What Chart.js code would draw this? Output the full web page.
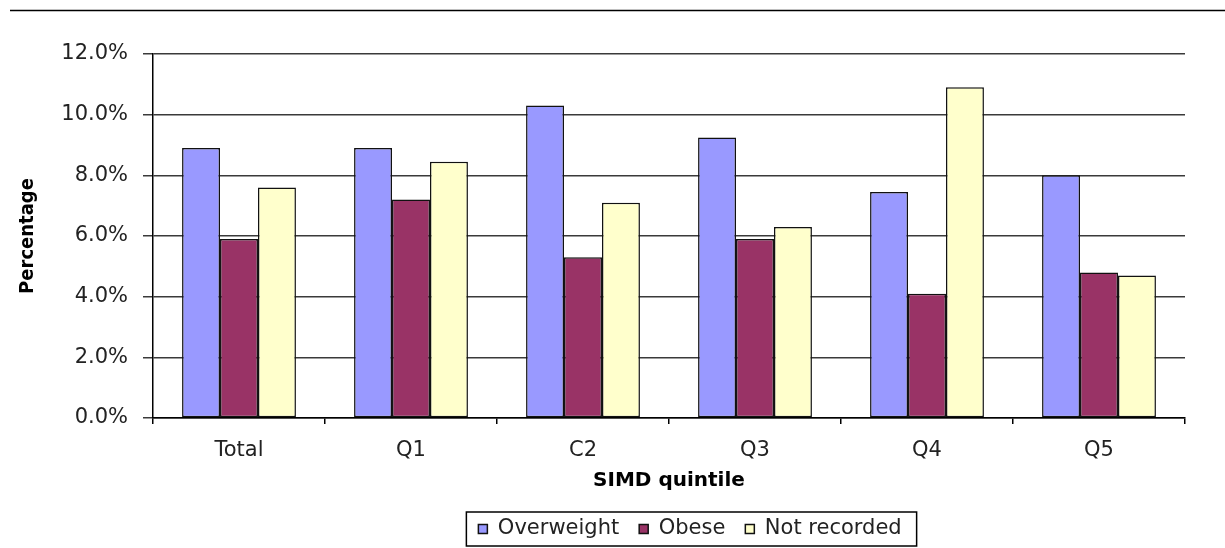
<!DOCTYPE html>
<html>
<head>
<meta charset="utf-8">
<title>Overweight and obesity by SIMD quintile</title>
<script src="https://cdn.jsdelivr.net/npm/chart.js@4.4.1/dist/chart.umd.min.js"></script>
<style>
    html, body { margin: 0; padding: 0; background: #fff; }
    #wrap { width: 1225px; height: 548px; }
</style>
</head>
<body>
<div id="wrap"><canvas id="quintileChart" width="1225" height="548"></canvas></div>
<script>
// Data (percent)
const categories = ['Total', 'Q1', 'C2', 'Q3', 'Q4', 'Q5'];
const overweight = [8.9, 8.9, 10.3, 9.25, 7.45, 8.0];
const obese = [5.9, 7.2, 5.3, 5.9, 4.1, 4.8];
const notRecorded = [7.6, 8.45, 7.1, 6.3, 10.9, 4.7];
const yTicks = [0, 2, 4, 6, 8, 10, 12];

const tickFont = { family: 'DejaVu Sans', size: 21 };

// thin rule across the top of the figure
const topRule = {
    id: 'topRule',
    afterDraw(chart) {
        const ctx = chart.ctx;
        ctx.save();
        ctx.strokeStyle = '#000';
        ctx.lineWidth = 1.5;
        ctx.beginPath();
        ctx.moveTo(10, 10.5);
        ctx.lineTo(chart.width, 10.5);
        ctx.stroke();
        ctx.restore();
    }
};

// move the legend to where Excel put it and draw the box round it
const legendFrame = {
    id: 'legendFrame',
    afterUpdate(chart) {
        const legend = chart.legend;
        const boxes = legend.legendHitBoxes;
        if (!boxes || !boxes.length) return;
        const minX = Math.min(...boxes.map(b => b.left));
        const maxX = Math.max(...boxes.map(b => b.left + b.width));
        const shiftX = 690 - (minX + maxX) / 2;
        const shiftY = 529 - (boxes[0].top + boxes[0].height / 2);
        legend.left += shiftX;
        legend.right += shiftX;
        legend.top += shiftY;
        legend.bottom += shiftY;
        boxes.forEach(b => { b.left += shiftX; b.top += shiftY; });
    },
    afterDraw(chart) {
        const boxes = chart.legend.legendHitBoxes;
        if (!boxes || !boxes.length) return;
        const minX = Math.min(...boxes.map(b => b.left));
        const maxX = Math.max(...boxes.map(b => b.left + b.width));
        const midY = boxes[0].top + boxes[0].height / 2;
        const ctx = chart.ctx;
        ctx.save();
        ctx.strokeStyle = '#000';
        ctx.lineWidth = 1.5;
        ctx.strokeRect(minX - 12, midY - 17, maxX - minX + 27, 34);
        ctx.restore();
    }
};

function buildChart() {
    const ctx = document.getElementById('quintileChart').getContext('2d');

    const barStyle = {
        borderColor: '#111',
        borderWidth: 1.5,
        borderSkipped: false,
        categoryPercentage: 0.662,
        barPercentage: 1.0
    };

    new Chart(ctx, {
        type: 'bar',
        data: {
            labels: categories,
            datasets: [
                { label: 'Overweight', data: overweight, backgroundColor: '#9999FF', ...barStyle },
                { label: 'Obese', data: obese, backgroundColor: '#993366', ...barStyle },
                { label: 'Not recorded', data: notRecorded, backgroundColor: '#FFFFCC', ...barStyle }
            ]
        },
        options: {
            responsive: false,
            animation: false,
            devicePixelRatio: 1,
            layout: {
                padding: { left: 0, right: 40, top: 54, bottom: 4 }
            },
            plugins: {
                tooltip: { enabled: false },
                legend: {
                    position: 'bottom',
                    labels: {
                        boxWidth: 9,
                        boxHeight: 9,
                        padding: 20,
                        color: '#222',
                        font: { family: 'DejaVu Sans', size: 21 }
                    }
                }
            },
            scales: {
                x: {
                    grid: {
                        drawOnChartArea: false,
                        drawTicks: true,
                        tickLength: 6,
                        color: '#000',
                        lineWidth: 1.5
                    },
                    border: { color: '#000', width: 1.5 },
                    ticks: { color: '#222', font: tickFont, padding: 14 },
                    title: {
                        display: true,
                        text: 'SIMD quintile',
                        color: '#000',
                        font: { family: 'DejaVu Sans', size: 20, weight: 'bold' },
                        padding: { top: 0, bottom: 0 }
                    },
                    afterFit(scale) { scale.height = 75; }
                },
                y: {
                    min: 0,
                    max: 12,
                    afterBuildTicks(scale) {
                        scale.ticks = yTicks.map(v => ({ value: v }));
                    },
                    grid: {
                        color: '#3a3a3a',
                        lineWidth: 1.5,
                        tickLength: 10
                    },
                    border: { color: '#000', width: 1.5 },
                    ticks: {
                        color: '#222',
                        font: tickFont,
                        padding: 15,
                        callback: (v) => v.toFixed(1) + '%'
                    },
                    title: {
                        display: true,
                        text: 'Percentage',
                        color: '#000',
                        font: { family: "'DejaVu Sans Condensed', 'Liberation Sans', sans-serif", size: 20, weight: 'bold' },
                        padding: { top: 16, bottom: 0 }
                    },
                    afterFit(scale) { scale.width = 153; }
                }
            }
        },
        plugins: [topRule, legendFrame]
    });
}

buildChart();
</script>
</body>
</html>
